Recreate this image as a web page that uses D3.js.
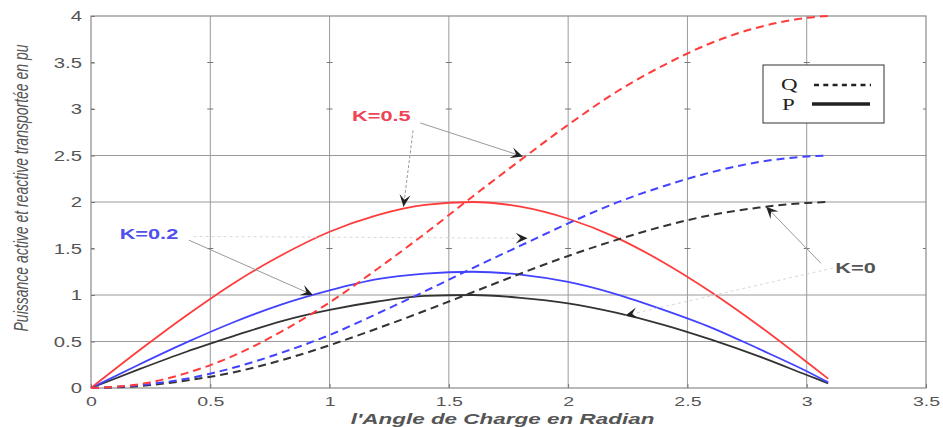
<!DOCTYPE html>
<html><head><meta charset="utf-8">
<script src="https://cdn.jsdelivr.net/npm/d3@7"></script>
<style>html,body{margin:0;padding:0;background:#fff;}svg{display:block;}</style>
</head><body>
<svg id="c" width="943" height="427"></svg>
<script>
// ---- data ----
const angles = [0, 0.2, 0.4, 0.6, 0.8, 1.0, 1.2, 1.4, 1.6, 1.8, 2.0, 2.2, 2.4, 2.6, 2.8, 3.0, 3.09];
const P_K0   = [0, 0.20, 0.39, 0.56, 0.72, 0.84, 0.93, 0.99, 1.00, 0.97, 0.91, 0.81, 0.68, 0.52, 0.34, 0.14, 0.05];
const P_K02  = [0, 0.25, 0.49, 0.71, 0.90, 1.05, 1.17, 1.23, 1.25, 1.22, 1.14, 1.01, 0.84, 0.65, 0.42, 0.18, 0.06];
const P_K05  = [0, 0.40, 0.78, 1.13, 1.43, 1.68, 1.86, 1.97, 2.00, 1.95, 1.82, 1.62, 1.35, 1.03, 0.67, 0.28, 0.10];
const Q_K0   = [0, 0.02, 0.08, 0.17, 0.30, 0.46, 0.64, 0.83, 1.03, 1.23, 1.42, 1.59, 1.74, 1.86, 1.94, 1.99, 2.00];
const Q_K02  = [0, 0.03, 0.10, 0.22, 0.38, 0.57, 0.80, 1.04, 1.29, 1.53, 1.77, 1.99, 2.17, 2.32, 2.43, 2.49, 2.50];
const Q_K05  = [0, 0.04, 0.16, 0.35, 0.61, 0.92, 1.28, 1.66, 2.06, 2.45, 2.83, 3.18, 3.47, 3.71, 3.88, 3.98, 4.00];
const xTicks = [0, 0.5, 1, 1.5, 2, 2.5, 3, 3.5];
const xTickLabels = ["0", "0.5", "1", "1.5", "2", "2.5", "3", "3.5"];
const yTicks = [0, 0.5, 1, 1.5, 2, 2.5, 3, 3.5, 4];
const yTickLabels = ["0", "0.5", "1", "1.5", "2", "2.5", "3", "3.5", "4"];
const yGridFull = [0.5, 1, 2, 2.5];
const yGridMarks = [1.5, 3, 3.5];
const seriesNames = ["P K=0", "P K=0.2", "P K=0.5", "Q K=0", "Q K=0.2", "Q K=0.5"];
const xTitle = "l'Angle de Charge en Radian";
const yTitle = "Puissance active et reactive transportée en pu";
const legendLabels = ["Q", "P"];
// annotation labels: [text, x, y] in data units
const annLabels = [["K=0.5", 1.094, 2.87], ["K=0.2", 0.12, 1.60], ["K=0", 3.12, 1.24]];
// arrows: [x0, y0, x1, y1, style] in data units
const annArrows = [
  [1.38, 2.85, 1.81, 2.49, "solid"],
  [1.35, 2.77, 1.31, 1.95, "dash"],
  [0.41, 1.59, 0.93, 1.00, "solid"],
  [0.43, 1.63, 1.83, 1.61, "faint"],
  [3.06, 1.34, 2.83, 1.95, "solid"],
  [3.11, 1.29, 2.24, 0.78, "faint"]
];

// ---- drawing ----
const SX = 1.45; // horizontal text stretch of the original picture
const svg = d3.select("#c");
const x = d3.scaleLinear().domain([0, 3.5]).range([91, 926]);
const y = d3.scaleLinear().domain([0, 4]).range([388, 16]);
const gridCol = "#9a9a9a";

const defs = svg.append("defs");
defs.append("marker").attr("id", "ah").attr("viewBox", "-12 -6 14 12")
  .attr("refX", 0).attr("refY", 0).attr("markerWidth", 14).attr("markerHeight", 12)
  .attr("markerUnits", "userSpaceOnUse").attr("orient", "auto")
  .append("path").attr("d", "M0,0 L-12,-5.5 L-7,0 L-12,5.5 Z").attr("fill", "#222");

// grid
const g = svg.append("g");
g.selectAll("line.vg").data(xTicks.slice(1, -1)).enter().append("line")
  .attr("x1", d => x(d)).attr("x2", d => x(d)).attr("y1", y(0)).attr("y2", y(4))
  .attr("stroke", gridCol).attr("stroke-width", 1);
g.selectAll("line.hg").data(yGridFull).enter().append("line")
  .attr("x1", x(0)).attr("x2", x(3.5)).attr("y1", d => y(d)).attr("y2", d => y(d))
  .attr("stroke", gridCol).attr("stroke-width", 1);
// small marks at missing gridlines
yGridMarks.forEach(v => {
  xTicks.forEach((t, i) => {
    let xa = x(t) - 3, xb = x(t) + 3;
    if (i === 0) xa = x(t);
    if (i === xTicks.length - 1) xb = x(t);
    g.append("line").attr("x1", xa).attr("x2", xb).attr("y1", y(v)).attr("y2", y(v))
      .attr("stroke", "#777").attr("stroke-width", 1);
  });
});
// border
g.append("rect").attr("x", x(0)).attr("y", y(4)).attr("width", x(3.5) - x(0)).attr("height", y(0) - y(4))
  .attr("fill", "none").attr("stroke", "#8a8a8a").attr("stroke-width", 1.2);

// axes (labels only)
const ax = svg.append("g").attr("transform", `translate(0,${y(0)})`)
  .call(d3.axisBottom(x).tickValues(xTicks).tickFormat((d, i) => xTickLabels[i]).tickSize(4).tickPadding(8));
ax.select(".domain").remove();
ax.selectAll(".tick line").attr("stroke", "#777").attr("y2", -4);
ax.selectAll(".tick text").attr("font-family", "Liberation Sans, Arial, sans-serif").attr("font-size", 13.5)
  .attr("fill", "#555").attr("y", 0).attr("dy", 0)
  .attr("transform", `translate(0,17.5) scale(${SX},1)`);

const ay = svg.append("g").attr("transform", `translate(${x(0)},0)`)
  .call(d3.axisLeft(y).tickValues(yTicks).tickFormat((d, i) => yTickLabels[i]).tickSize(4).tickPadding(8));
ay.select(".domain").remove();
ay.selectAll(".tick line").attr("stroke", "#777").attr("x2", 4);
ay.selectAll(".tick text").attr("font-family", "Liberation Sans, Arial, sans-serif").attr("font-size", 14)
  .attr("fill", "#555").attr("x", 0).attr("dy", "0.35em")
  .attr("transform", `translate(-9,0) scale(${SX},1)`);

// axis titles
svg.append("text").text(xTitle)
  .attr("font-family", "Liberation Sans, Arial, sans-serif").attr("font-size", 15.5)
  .attr("font-style", "italic").attr("font-weight", "bold").attr("fill", "#555")
  .attr("text-anchor", "middle")
  .attr("transform", `translate(${(x(0) + x(3.5)) / 2 - 6},423.5) scale(${SX},1)`);
svg.append("text").text(yTitle)
  .attr("font-family", "Liberation Sans, Arial, sans-serif").attr("font-size", 14)
  .attr("font-style", "italic").attr("fill", "#555")
  .attr("text-anchor", "middle")
  .attr("transform", `translate(28,188) scale(${SX},1) rotate(-90)`);

// curves
const line = d3.line().x(d => x(d[0])).y(d => y(d[1])).curve(d3.curveMonotoneX);
const series = [
  {v: P_K0, c: "#333333", dash: null},
  {v: P_K02, c: "#4242ff", dash: null},
  {v: P_K05, c: "#ff3c3c", dash: null},
  {v: Q_K0, c: "#333333", dash: "8,5"},
  {v: Q_K02, c: "#4242ff", dash: "8,5"},
  {v: Q_K05, c: "#ff3c3c", dash: "8,5"}
];
const cg = svg.append("g");
series.forEach((s, i) => {
  cg.append("path").datum(angles.map((a, j) => [a, s.v[j]]))
    .attr("d", line).attr("fill", "none").attr("stroke", s.c)
    .attr("stroke-width", s.dash ? 2 : 1.8)
    .attr("stroke-dasharray", s.dash).attr("data-name", seriesNames[i]);
});

// annotations
const ag = svg.append("g");
annArrows.forEach(a => {
  const col = a[4] === "faint" ? "#d8d8d8" : "#9a9a9a";
  ag.append("line").attr("x1", x(a[0])).attr("y1", y(a[1])).attr("x2", x(a[2])).attr("y2", y(a[3]))
    .attr("stroke", col).attr("stroke-width", 1)
    .attr("stroke-dasharray", a[4] === "dash" ? "3,2" : (a[4] === "faint" ? "3,3" : null))
    .attr("marker-end", "url(#ah)");
});
const annCols = ["#ee4455", "#5050ee", "#555555"];
annLabels.forEach((l, i) => {
  ag.append("text").text(l[0])
    .attr("font-family", "Liberation Sans, Arial, sans-serif").attr("font-size", 15)
    .attr("font-weight", "bold").attr("fill", annCols[i])
    .attr("transform", `translate(${x(l[1])},${y(l[2])}) scale(${SX},1)`);
});

// legend
const lg = svg.append("g");
lg.append("rect").attr("x", 763).attr("y", 65).attr("width", 121).attr("height", 58)
  .attr("fill", "#fff").attr("stroke", "#333").attr("stroke-width", 1);
lg.append("text").text(legendLabels[0]).attr("font-family", "Liberation Serif, Times New Roman, serif")
  .attr("font-size", 17).attr("fill", "#222").attr("transform", `translate(781,90) scale(1.35,1)`);
lg.append("text").text(legendLabels[1]).attr("font-family", "Liberation Serif, Times New Roman, serif")
  .attr("font-size", 17).attr("fill", "#222").attr("transform", `translate(782,110) scale(1.35,1)`);
lg.append("line").attr("x1", 814).attr("x2", 871).attr("y1", 85).attr("y2", 85)
  .attr("stroke", "#222").attr("stroke-width", 2.5).attr("stroke-dasharray", "5,4.3");
lg.append("line").attr("x1", 812).attr("x2", 870).attr("y1", 104).attr("y2", 104)
  .attr("stroke", "#222").attr("stroke-width", 3.5);
</script>
</body></html>
